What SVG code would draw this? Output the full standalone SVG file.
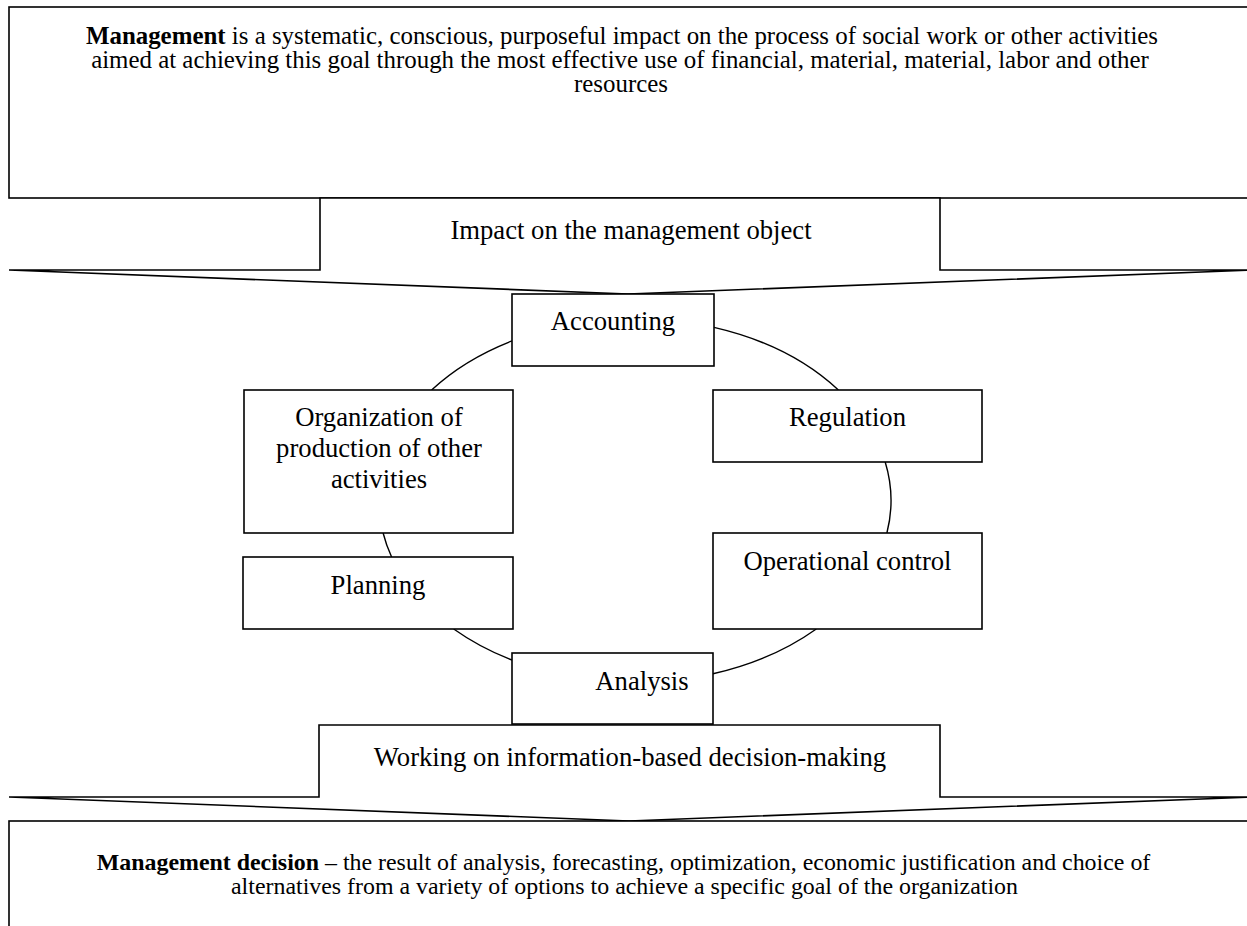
<svg xmlns="http://www.w3.org/2000/svg" width="1247" height="926" viewBox="0 0 1247 926">
<style>
.box{fill:#fff;stroke:#000;stroke-width:1.6}
.arrow{fill:#fff;stroke:#000;stroke-width:1.6;stroke-linejoin:miter}
.conn{fill:none;stroke:#000;stroke-width:1.4}
text{font-family:"Liberation Serif","Times New Roman",serif;font-size:26.67px;fill:#000}
.c{text-anchor:middle}
.b{font-weight:bold}
.top{font-size:24.9px}
.bot{font-size:23.9px}
</style>
<rect width="1247" height="926" fill="#fff"/>
<g id="connectors">
<path class="conn" d="M431.6,390 A256,182 0 0 1 512,340.9"/>
<path class="conn" d="M714,327.4 A256,182 0 0 1 838.4,390"/>
<path class="conn" d="M885.2,462 A256,182 0 0 1 886.9,533"/>
<path class="conn" d="M816.3,629 A256,182 0 0 1 713,673.8"/>
<path class="conn" d="M512,660.1 A256,182 0 0 1 453.7,629"/>
<path class="conn" d="M391.6,557 A256,182 0 0 1 383.1,533"/>
</g>
<g id="management">
<rect class="box" x="9" y="7" width="1250" height="191"/>
<text class="c top" x="622" y="44"><tspan class="b">Management</tspan> is a systematic, conscious, purposeful impact on the process of social work or other activities</text>
<text class="c top" x="620" y="68">aimed at achieving this goal through the most effective use of financial, material, material, labor and other</text>
<text class="c top" x="621" y="92">resources</text>
</g>
<g id="impact-arrow">
<polygon class="arrow" points="320,198 940,198 940,270 1252,270 628,294 9,270 320,270"/>
<text class="c" x="631" y="239">Impact on the management object</text>
</g>
<g id="accounting">
<rect class="box" x="512" y="294" width="202" height="72"/>
<text class="c" x="613" y="330">Accounting</text>
</g>
<g id="organization">
<rect class="box" x="244" y="390" width="269" height="143"/>
<text class="c" x="379" y="426">Organization of</text>
<text class="c" x="379" y="457">production of other</text>
<text class="c" x="379" y="488">activities</text>
</g>
<g id="regulation">
<rect class="box" x="713" y="390" width="269" height="72"/>
<text class="c" x="847.5" y="426">Regulation</text>
</g>
<g id="planning">
<rect class="box" x="243" y="557" width="270" height="72"/>
<text class="c" x="378" y="594">Planning</text>
</g>
<g id="operational-control">
<rect class="box" x="713" y="533" width="269" height="96"/>
<text class="c" x="847.5" y="570">Operational control</text>
</g>
<g id="analysis">
<rect class="box" x="512" y="653" width="201" height="71"/>
<text class="c" x="642" y="690">Analysis</text>
</g>
<g id="decision-arrow">
<polygon class="arrow" points="319,725 940,725 940,797 1252,797 629,821 9,797 319,797"/>
<text class="c" x="630" y="766">Working on information-based decision-making</text>
</g>
<g id="management-decision">
<rect class="box" x="9" y="821" width="1250" height="120"/>
<text class="c bot" x="623.5" y="870"><tspan class="b">Management decision</tspan> – the result of analysis, forecasting, optimization, economic justification and choice of</text>
<text class="c bot" x="624.5" y="894">alternatives from a variety of options to achieve a specific goal of the organization</text>
</g>
</svg>
